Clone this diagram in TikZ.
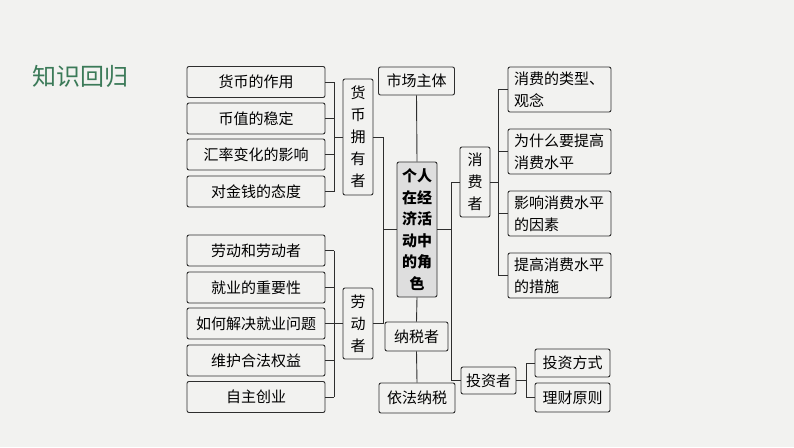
\documentclass[tikz,border=0pt]{standalone}
\usepackage{fontspec}
\setmainfont{Noto Sans CJK SC}
\usepackage{xcolor}
\definecolor{bgpaper}{HTML}{F2F2F0}
\definecolor{titlegreen}{HTML}{3B7A58}
\definecolor{rolegray}{HTML}{DEDEDE}
\definecolor{inkline}{HTML}{2E2E2E}

\tikzset{
  box/.style={draw=inkline, line width=0.9pt, rounded corners=2pt, fill=bgpaper,
    inner sep=0pt, align=center, font=\fontsize{15}{22}\selectfont},
  leafbox/.style={box, minimum width=138pt, minimum height=31pt},
  vbox/.style={box, minimum width=30pt, text width=16pt},
  notebox/.style={box, minimum width=103pt, minimum height=45pt, text width=91pt, align=left},
  link/.style={draw=inkline, line width=0.9pt}
}

\begin{document}
\begin{tikzpicture}[x=1pt, y=-1pt]
        \fill[bgpaper] (0,0) rectangle (794,447);
        \useasboundingbox (0,0) rectangle (794,447);

        \node[text=titlegreen, font=\fontsize{24}{24}\selectfont] (title) at (80,76) {知识回归};

        % money holder
        \node[leafbox] (m1) at (256,82) {货币的作用};
        \node[leafbox] (m2) at (256,118.5) {币值的稳定};
        \node[leafbox] (m3) at (256,154.5) {汇率变化的影响};
        \node[leafbox] (m4) at (256,191.5) {对金钱的态度};
        \node[vbox, minimum height=116pt] (hb) at (358,137) {货\\币\\拥\\有\\者};

        % labour
        \node[leafbox] (l1) at (256,250.5) {劳动和劳动者};
        \node[leafbox] (l2) at (256,287.5) {就业的重要性};
        \node[leafbox] (l3) at (256,323.5) {如何解决就业问题};
        \node[leafbox] (l4) at (256,360.5) {维护合法权益};
        \node[leafbox] (l5) at (256,397) {自主创业};
        \node[vbox, minimum height=71pt] (ld) at (358,323.5) {劳\\动\\者};

        % centre column
        \node[box, minimum width=76pt, minimum height=28pt] (sc) at (416.5,81) {市场主体};
        \node[box, fill=rolegray, minimum width=40pt, minimum height=135pt, text width=32pt,
              font=\fontsize{15}{21.5}\selectfont\bfseries] (role) at (417,229.5)
              {个人\\在经\\济活\\动中\\的角\\色};
        \node[box, minimum width=63pt, minimum height=29pt] (ns) at (416.5,336.5) {纳税者};
        \node[box, minimum width=76pt, minimum height=30pt] (yf) at (417,398) {依法纳税};

        % consumer
        \node[vbox, minimum height=70pt] (xf) at (475,182) {消\\费\\者};
        \node[notebox] (c1) at (559.5,89.5) {消费的类型、\\观念};
        \node[notebox] (c2) at (559.5,151.5) {为什么要提高\\消费水平};
        \node[notebox] (c3) at (559.5,213.5) {影响消费水平\\的因素};
        \node[notebox] (c4) at (559.5,275.5) {提高消费水平\\的措施};

        % investor
        \node[box, minimum width=55pt, minimum height=27pt] (tz) at (488.5,380.5) {投资者};
        \node[box, minimum width=75pt, minimum height=28pt] (i1) at (572.5,363) {投资方式};
        \node[box, minimum width=75pt, minimum height=29pt] (i2) at (572.5,397.5) {理财原则};

        % bracket columns
        \coordinate (hbk) at (334,0);
        \coordinate (ltr) at (383,0);
        \coordinate (rtr) at (451,0);
        \coordinate (cbk) at (498,0);
        \coordinate (ibk) at (526,0);

        \foreach \n in {m1,m2,m3,m4}
            \draw[link] (\n.east) -- (\n.east -| hbk);
        \draw[link] (m1.east -| hbk) -- (m4.east -| hbk);
        \draw[link] (hb.west) -- (hb.west -| hbk);

        \foreach \n in {l1,l2,l3,l4,l5}
            \draw[link] (l1.east |- \n.east) -- (\n.east -| hbk);
        \draw[link] (l1.east -| hbk) -- (l5.east -| hbk);
        \draw[link] (ld.west) -- (ld.west -| hbk);

        \draw[link] (hb.east) -- (hb.east -| ltr) -- (ld.east -| ltr) -- (ld.east);
        \draw[link] (role.west -| ltr) -- (role.west);

        \draw[link] (sc.south) -- (role.north);
        \draw[link] (role.south) -- (ns.north);
        \draw[link] (ns.south) -- (yf.north);

        \draw[link] (role.east) -- (role.east -| rtr);
        \draw[link] (xf.west) -- (xf.west -| rtr) -- (tz.west -| rtr) -- (tz.west);

        \draw[link] (xf.east) -- (xf.east -| cbk);
        \draw[link] (c1.west -| cbk) -- (c4.west -| cbk);
        \foreach \n in {c1,c2,c3,c4}
            \draw[link] (\n.west -| cbk) -- (\n.west);

        \draw[link] (tz.east) -- (tz.east -| ibk);
        \draw[link] (i1.west -| ibk) -- (i2.west -| ibk);
        \foreach \n in {i1,i2}
            \draw[link] (\n.west -| ibk) -- (\n.west);
    \end{tikzpicture}
\end{document}
